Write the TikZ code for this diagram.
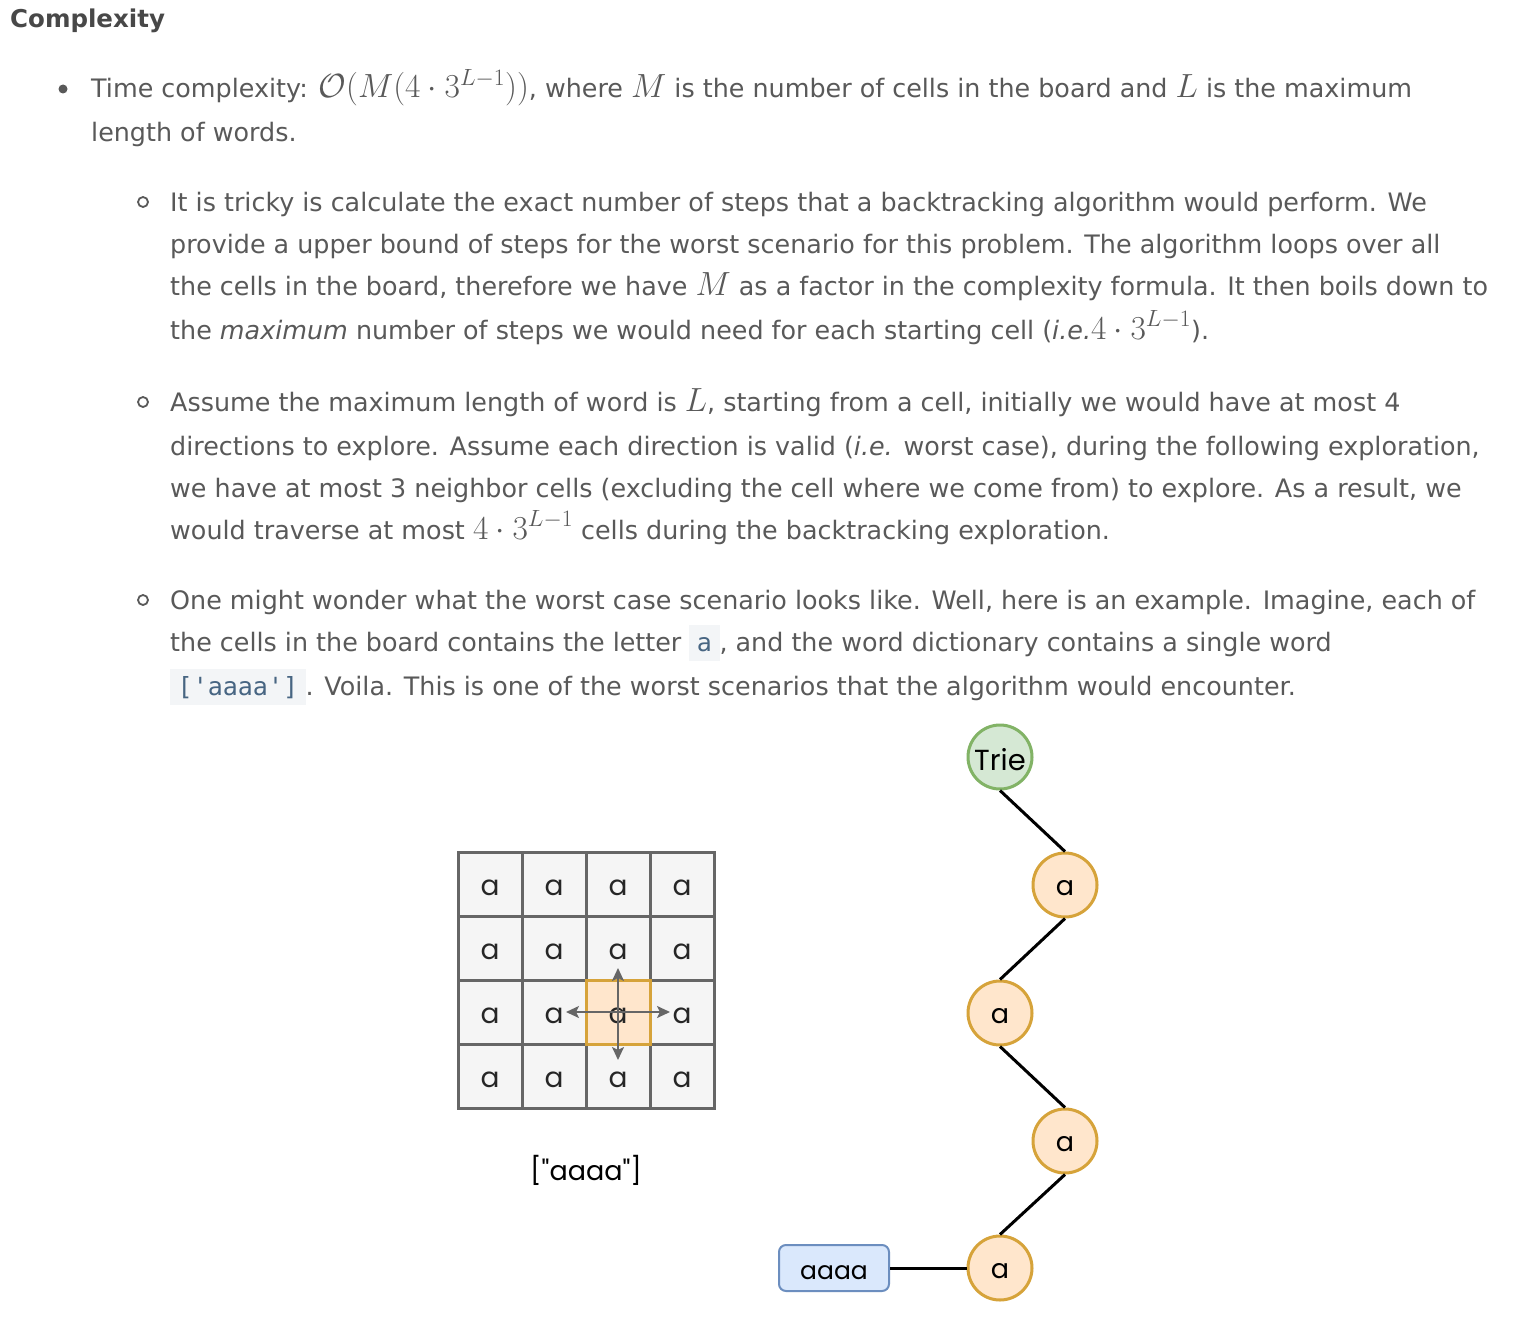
\RequirePackage{fix-cm}
\documentclass[tikz,border=0pt]{standalone}
\usepackage[no-math]{fontspec}
\setmainfont{DejaVu Sans}
\setmonofont{DejaVu Sans Mono}
\newfontfamily\diagfont{Poppins}
\usetikzlibrary{arrows.meta}
\definecolor{txtgray}{RGB}{89,89,89}
\definecolor{headgray}{RGB}{72,72,72}
\definecolor{codebg}{RGB}{243,245,247}
\definecolor{codefg}{RGB}{71,101,130}
\definecolor{cellfill}{RGB}{245,245,245}
\definecolor{gridline}{RGB}{102,102,102}
\definecolor{peach}{RGB}{255,230,204}
\definecolor{gold}{RGB}{214,163,58}
\definecolor{greenfill}{RGB}{213,232,212}
\definecolor{greenline}{RGB}{130,179,102}
\definecolor{bluefill}{RGB}{218,232,252}
\definecolor{blueline}{RGB}{108,142,191}
\newcommand\kmath[1]{{\fontsize{33.5}{33.5}\selectfont$#1$}}
\newcommand\codespan[1]{{\setlength{\fboxsep}{0pt}\colorbox{codebg}{\hspace{7.5pt}\rule[-10pt]{0pt}{36pt}\ttfamily\fontsize{25}{25}\selectfont\textcolor{codefg}{#1}\hspace{7.5pt}}}}
\begin{document}
\begin{tikzpicture}[x=1pt,y=-1pt,
  txt/.style={anchor=base west,inner sep=0pt,text=txtgray,font=\fontsize{25.4}{30}\selectfont},
  head/.style={anchor=base west,inner sep=0pt,text=headgray,font=\bfseries\fontsize{24.5}{30}\selectfont},
  cell/.style={draw=gridline,fill=cellfill,line width=3pt,minimum size=64pt,inner sep=0pt,text=black!85,font=\diagfont\fontsize{28}{28}\selectfont,text height=23pt,text depth=0pt},
  hl/.style={draw=gold,fill=peach},
  garrow/.style={draw=gridline,line width=2pt,-{Stealth[length=13pt,width=12pt,inset=3pt]}},
  trienode/.style={circle,draw=gold,fill=peach,line width=3pt,minimum size=64pt,inner sep=0pt,font=\diagfont\fontsize{27}{27}\selectfont,text height=21pt,text depth=0pt},
  rootnode/.style={circle,draw=greenline,fill=greenfill,line width=3pt,minimum size=64pt,inner sep=0pt,font=\diagfont\fontsize{29}{29}\selectfont,text height=26pt,text depth=0pt},
  wordnode/.style={rectangle,rounded corners=7pt,draw=blueline,fill=bluefill,line width=2pt,minimum width=110pt,minimum height=46pt,inner sep=0pt,font=\diagfont\fontsize{25}{25}\selectfont,text height=22pt,text depth=0pt},
  edge/.style={draw=black,line width=3pt},
  dotbullet/.style={fill=txtgray},
  ringbullet/.style={draw=txtgray,line width=1.8pt}]
\useasboundingbox (0,0) rectangle (1532,1330);
\fill[white] (0,0) rectangle (1532,1330);
% heading
\node[head] (head) at (10,28) {Complexity};
% bullet 1
\fill[dotbullet] (63,89) circle (4.5);
\node[txt] (a1) at (91,98) {Time complexity: \kmath{\mathcal{O}(M(4\cdot 3^{L-1}))}, where \kmath{M} is the number of cells in the board and \kmath{L} is the maximum};
\node[txt] (a2) at (91,141) {length of words.};
% sub bullet 1
\draw[ringbullet] (143,202) circle (5);
\node[txt] (b1) at (170,211) {It is tricky is calculate the exact number of steps that a backtracking algorithm would perform. We};
\node[txt] (b2) at (170,253) {provide a upper bound of steps for the worst scenario for this problem. The algorithm loops over all};
\node[txt] (b3) at (170,295) {the cells in the board, therefore we have \kmath{M} as a factor in the complexity formula. It then boils down to};
\node[txt] (b4) at (170,339) {the \textit{maximum} number of steps we would need for each starting cell (\textit{i.e.}\kmath{4\cdot 3^{L-1}}).};
% sub bullet 2
\draw[ringbullet] (143,402) circle (5);
\node[txt] (c1) at (170,411) {Assume the maximum length of word is \kmath{L}, starting from a cell, initially we would have at most 4};
\node[txt] (c2) at (170,455) {directions to explore. Assume each direction is valid (\textit{i.e.} worst case), during the following exploration,};
\node[txt] (c3) at (170,497) {we have at most 3 neighbor cells (excluding the cell where we come from) to explore. As a result, we};
\node[txt] (c4) at (170,539) {would traverse at most \kmath{4\cdot 3^{L-1}} cells during the backtracking exploration.};
% sub bullet 3
\draw[ringbullet] (143,600) circle (5);
\node[txt] (d1) at (170,609) {One might wonder what the worst case scenario looks like. Well, here is an example. Imagine, each of};
\node[txt] (d2) at (170,651) {the cells in the board contains the letter \codespan{a}, and the word dictionary contains a single word};
\node[txt] (d3) at (170,695) {\codespan{['aaaa']}. Voila. This is one of the worst scenarios that the algorithm would encounter.};
% grid
\foreach \r in {0,...,3}{
  \foreach \c in {0,...,3}{
    \node[cell] (g\r\c) at ({490+64*\c},{884+64*\r}) {a};
  }
}
\node[cell,hl] (hc) at (618,1012) {a};
\coordinate (tipU) at (618,968);
\coordinate (tipD) at (618,1060);
\coordinate (tipL) at (566,1012);
\coordinate (tipR) at (670,1012);
\draw[garrow] (hc.center) -- (tipU);
\draw[garrow] (hc.center) -- (tipD);
\draw[garrow] (hc.center) -- (tipL);
\draw[garrow] (hc.center) -- (tipR);
\node[inner sep=0pt,font=\diagfont\fontsize{27}{27}\selectfont] (dict) at (586,1170) {["aaaa"]};
% trie
\node[rootnode] (trie) at (1000,757) {Trie};
\node[trienode] (n1) at (1065,885) {a};
\node[trienode] (n2) at (1000,1013) {a};
\node[trienode] (n3) at (1065,1141) {a};
\node[trienode] (n4) at (1000,1268) {a};
\node[wordnode] (word) at (834,1268) {aaaa};
\draw[edge] (trie.south) -- (n1.north);
\draw[edge] (n1.south) -- (n2.north);
\draw[edge] (n2.south) -- (n3.north);
\draw[edge] (n3.south) -- (n4.north);
\draw[edge] (word.east) -- (n4.west);
\end{tikzpicture}
\end{document}
